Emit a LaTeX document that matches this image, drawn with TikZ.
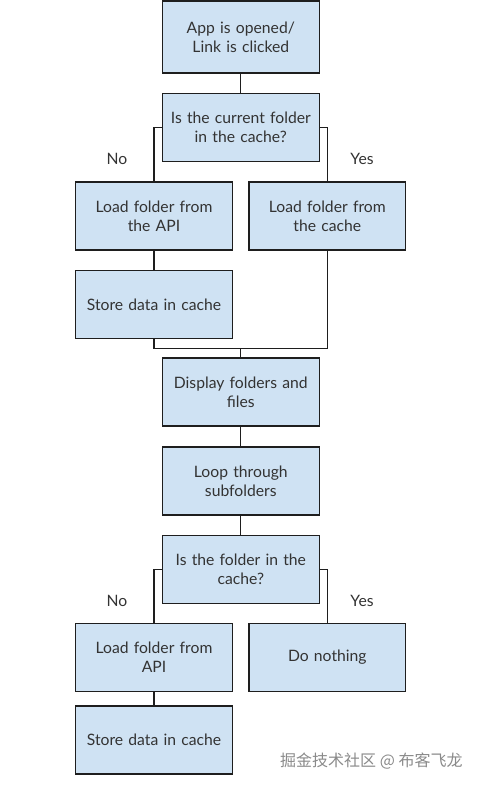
\documentclass[tikz,border=0pt]{standalone}
\usepackage{fontspec}
\setmainfont{Lato}
\newfontfamily\cjkfont{Noto Sans CJK SC}
\definecolor{boxfill}{HTML}{CFE2F3}
\definecolor{boxline}{HTML}{1E1E1E}
\definecolor{txt}{HTML}{333333}
\definecolor{wm}{HTML}{8A8A8A}
\begin{document}
\begin{tikzpicture}[x=1pt,y=-1pt,
  box/.style={draw=boxline, fill=boxfill, line width=1.2pt, minimum width=156.6pt, minimum height=68pt, inner sep=2pt, align=center, text width=150pt, font=\fontsize{15.7}{19}\selectfont, text=txt},
  conn/.style={draw=boxline, line width=1.2pt},
  lbl/.style={font=\fontsize{15.7}{19}\selectfont, text=txt}]
\useasboundingbox (0,0) rectangle (482,786);
\node[box, minimum height=72pt] (b1) at (240.8,37) {App is opened/\\Link is clicked};
\node[box] (b2) at (240.8,127.5) {Is the current folder\\in the cache?};
\node[box] (b3) at (154,216) {Load folder from\\the API};
\node[box] (b4) at (327.3,216) {Load folder from\\the cache};
\node[box] (b5) at (154,304.5) {Store data in cache};
\node[box] (b6) at (240.8,392) {Display folders and\\files};
\node[box] (b7) at (240.8,481) {Loop through\\subfolders};
\node[box] (b8) at (240.8,569.3) {Is the folder in the\\cache?};
\node[box] (b9) at (154,657.3) {Load folder from\\API};
\node[box] (b10) at (327.3,657.3) {Do nothing};
\node[box] (b11) at (154,740) {Store data in cache};
\coordinate (m) at (240.8,348.3);
\node[lbl] (no1) at (117,159) {No};
\node[lbl] (yes1) at (362,159) {Yes};
\node[lbl] (no2) at (117,601) {No};
\node[lbl] (yes2) at (362,601) {Yes};
\node[font=\cjkfont\fontsize{16}{18}\selectfont, text=wm, anchor=west, inner sep=0pt] (wm) at (280,761) {掘金技术社区 @ 布客飞龙};
\draw[conn] (b1) -- (b2);
\draw[conn] (b2.west) -| (b3.north);
\draw[conn] (b2.east) -| (b4.north);
\draw[conn] (b3) -- (b5);
\draw[conn] (b5.south) |- (m) -| (b4.south);
\draw[conn] (m) -- (b6.north);
\draw[conn] (b6) -- (b7);
\draw[conn] (b7) -- (b8);
\draw[conn] (b8.west) -| (b9.north);
\draw[conn] (b8.east) -| (b10.north);
\draw[conn] (b9) -- (b11);
\end{tikzpicture}
\end{document}
